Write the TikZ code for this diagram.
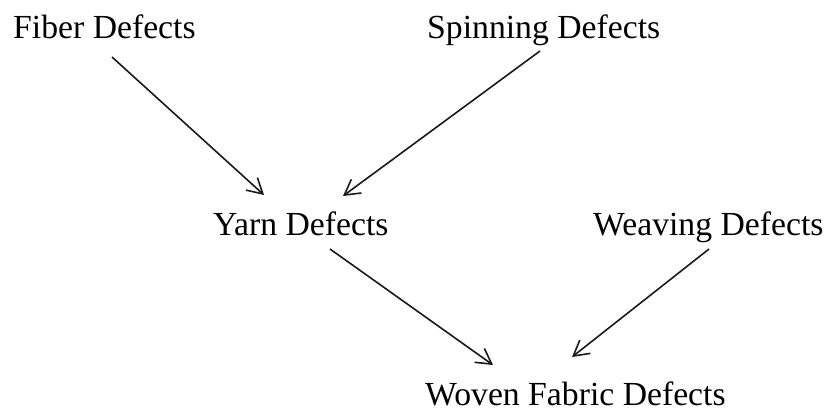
\documentclass[tikz,border=0pt]{standalone}
\usepackage{fontspec}
\setmainfont{Liberation Serif}
\usetikzlibrary{arrows.meta}
\begin{document}
\begin{tikzpicture}[x=1pt,y=-1pt,
  label/.style={anchor=base west,inner sep=0pt,font=\fontsize{33.7}{40}\selectfont},
  arr/.style={draw=black!90,line width=1.6pt,-{Straight Barb[length=15pt,width=17pt,line width=1.6pt]}}]
\useasboundingbox (0,0) rectangle (829,410);
\node[label] (fiber) at (13,38) {Fiber Defects};
\node[label] (spin)  at (427,38) {Spinning Defects};
\node[label] (yarn)  at (213,235) {Yarn Defects};
\node[label] (weave) at (593,235) {Weaving Defects};
\node[label] (woven) at (425,405) {Woven Fabric Defects};
\draw[arr] ([shift={(99,19)}]fiber.base west) -- ([shift={(51,-40)}]yarn.base west);
\draw[arr] ([shift={(113,13)}]spin.base west) -- ([shift={(130,-39)}]yarn.base west);
\draw[arr] ([shift={(117,14)}]yarn.base west) -- ([shift={(68,-40)}]woven.base west);
\draw[arr] ([shift={(116,14)}]weave.base west) -- ([shift={(147,-48)}]woven.base west);
\end{tikzpicture}
\end{document}
